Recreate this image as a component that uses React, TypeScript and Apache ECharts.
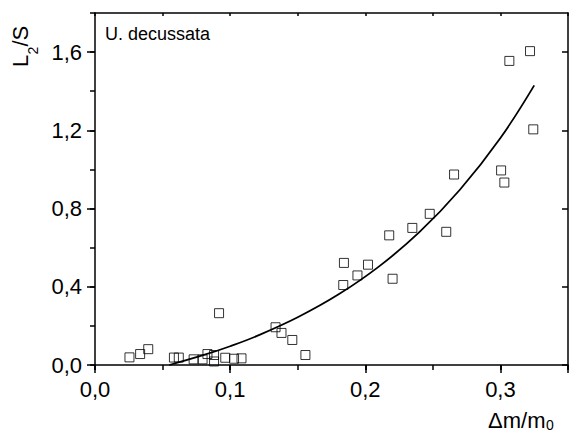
import React, { useEffect, useRef } from 'react';
import * as echarts from 'echarts';

// Scatter data (Δm/m0, L2/S)
const scatterX = [0.0255, 0.0334, 0.0394, 0.0584, 0.062, 0.073, 0.0796, 0.0832, 0.0881, 0.0881, 0.0964, 0.1029, 0.1084, 0.0918, 0.1336, 0.138, 0.146, 0.1557, 0.1837, 0.1842, 0.1942, 0.202, 0.2177, 0.2202, 0.2348, 0.2477, 0.2599, 0.2657, 0.3005, 0.3029, 0.3066, 0.3219, 0.3243];
const scatterY = [0.039, 0.056, 0.081, 0.038, 0.038, 0.029, 0.029, 0.056, 0.051, 0.018, 0.037, 0.032, 0.034, 0.265, 0.193, 0.164, 0.128, 0.051, 0.409, 0.522, 0.458, 0.513, 0.663, 0.441, 0.701, 0.773, 0.681, 0.974, 0.995, 0.933, 1.555, 1.605, 1.205];

// Fitted curve
const fitX = [0.055, 0.08, 0.1, 0.12, 0.15, 0.18, 0.21, 0.24, 0.27, 0.3, 0.325];
const fitY = [0, 0.05, 0.096, 0.149, 0.244, 0.36, 0.503, 0.679, 0.896, 1.161, 1.43];

const xTicks = [0, 0.1, 0.2, 0.3];
const yTicks = [0, 0.4, 0.8, 1.2, 1.6];

const fmt = (ticks: number[]) => (v: number) => {
  const m = ticks.find((t) => Math.abs(t - v) < 1e-6);
  return m === undefined ? '' : m.toFixed(1).replace('.', ',');
};

const FONT = 'Liberation Sans, Arial, sans-serif';
const LINE = { color: '#000', width: 1.5 };

export default function App() {
  const ref = useRef<HTMLDivElement>(null);
  useEffect(() => {
    if (!ref.current) return;
    const chart = echarts.init(ref.current, null, { renderer: 'svg' });
    const base = {
      type: 'value' as const,
      splitLine: { show: false },
      axisLabel: { show: false },
      axisLine: { show: false, lineStyle: LINE },
    };
    chart.setOption({
      animation: false,
      backgroundColor: '#fff',
      grid: { left: 95, top: 13, width: 479.5, height: 352, containLabel: false },
      xAxis: [
        { ...base, min: 0, max: 0.35, interval: 0.05, position: 'bottom', axisLine: { show: true, onZero: false, lineStyle: LINE }, axisTick: { show: true, length: 5, lineStyle: LINE } },
        {
          ...base, min: 0, max: 0.35, interval: 0.1, position: 'bottom',
          axisTick: { show: true, length: 8, lineStyle: LINE },
          axisLabel: { show: true, margin: 13, formatter: fmt(xTicks), color: '#000', fontSize: 22, fontFamily: FONT },
        },
        { ...base, min: 0, max: 0.35, interval: 0.05, position: 'top', axisLine: { show: true, onZero: false, lineStyle: LINE }, axisTick: { show: true, inside: true, length: 3, lineStyle: LINE } },
        { ...base, min: 0, max: 0.35, interval: 0.1, position: 'top', axisTick: { show: true, inside: true, length: 5, lineStyle: LINE } },
      ],
      yAxis: [
        { ...base, min: 0, max: 1.8, interval: 0.2, position: 'left', axisLine: { show: true, onZero: false, lineStyle: LINE }, axisTick: { show: true, length: 5, lineStyle: LINE } },
        {
          ...base, min: 0, max: 1.8, interval: 0.4, position: 'left',
          axisTick: { show: true, length: 8, lineStyle: LINE, customValues: yTicks },
          axisLabel: { show: true, margin: 13, formatter: fmt(yTicks), color: '#000', fontSize: 22, fontFamily: FONT, customValues: yTicks },
        },
        {
          ...base, min: 0, max: 1.8, interval: 0.4, position: 'right',
          axisLine: { show: true, onZero: false, lineStyle: LINE },
          axisTick: { show: true, inside: true, length: 6, lineStyle: LINE, customValues: yTicks },
        },
      ],
      series: [
        {
          type: 'line',
          xAxisIndex: 0,
          yAxisIndex: 0,
          data: fitX.map((x, i) => [x, fitY[i]]),
          smooth: 0.4,
          showSymbol: false,
          symbol: 'none',
          lineStyle: { color: '#000', width: 1.8 },
          z: 3,
        },
        {
          type: 'scatter',
          xAxisIndex: 0,
          yAxisIndex: 0,
          data: scatterX.map((x, i) => [x, scatterY[i]]),
          symbol: 'rect',
          symbolSize: 9,
          itemStyle: { color: 'rgba(0,0,0,0)', borderColor: '#000', borderWidth: 1 },
          z: 4,
        },
      ],
      graphic: [
        {
          type: 'text', x: 105, y: 34,
          style: { text: 'U. decussata', fontSize: 18, fontFamily: FONT, fill: '#000', textAlign: 'left', textVerticalAlign: 'middle' },
        },
        {
          type: 'group', x: 20, y: 67, rotation: Math.PI / 2,
          children: [
            { type: 'text', x: 0, y: 0, style: { text: 'L', fontSize: 22, fontFamily: FONT, fill: '#000', textAlign: 'left', textVerticalAlign: 'middle' } },
            { type: 'text', x: 12.5, y: 13, style: { text: '2', fontSize: 14, fontFamily: FONT, fill: '#000', textAlign: 'left', textVerticalAlign: 'middle' } },
            { type: 'text', x: 20.5, y: 0, style: { text: '/S', fontSize: 22, fontFamily: FONT, fill: '#000', textAlign: 'left', textVerticalAlign: 'middle' } },
          ],
        },
        {
          type: 'text', x: 488, y: 420,
          style: { text: 'Δm/m', fontSize: 22, fontFamily: FONT, fill: '#000', textAlign: 'left', textVerticalAlign: 'middle' },
        },
        {
          type: 'text', x: 546, y: 425,
          style: { text: '0', fontSize: 14, fontFamily: FONT, fill: '#000', textAlign: 'left', textVerticalAlign: 'middle' },
        },
      ],
    });
    return () => chart.dispose();
  }, []);
  return <div ref={ref} style={{ position: 'fixed', left: 0, top: 0, width: 571, height: 434 }} />;
}
